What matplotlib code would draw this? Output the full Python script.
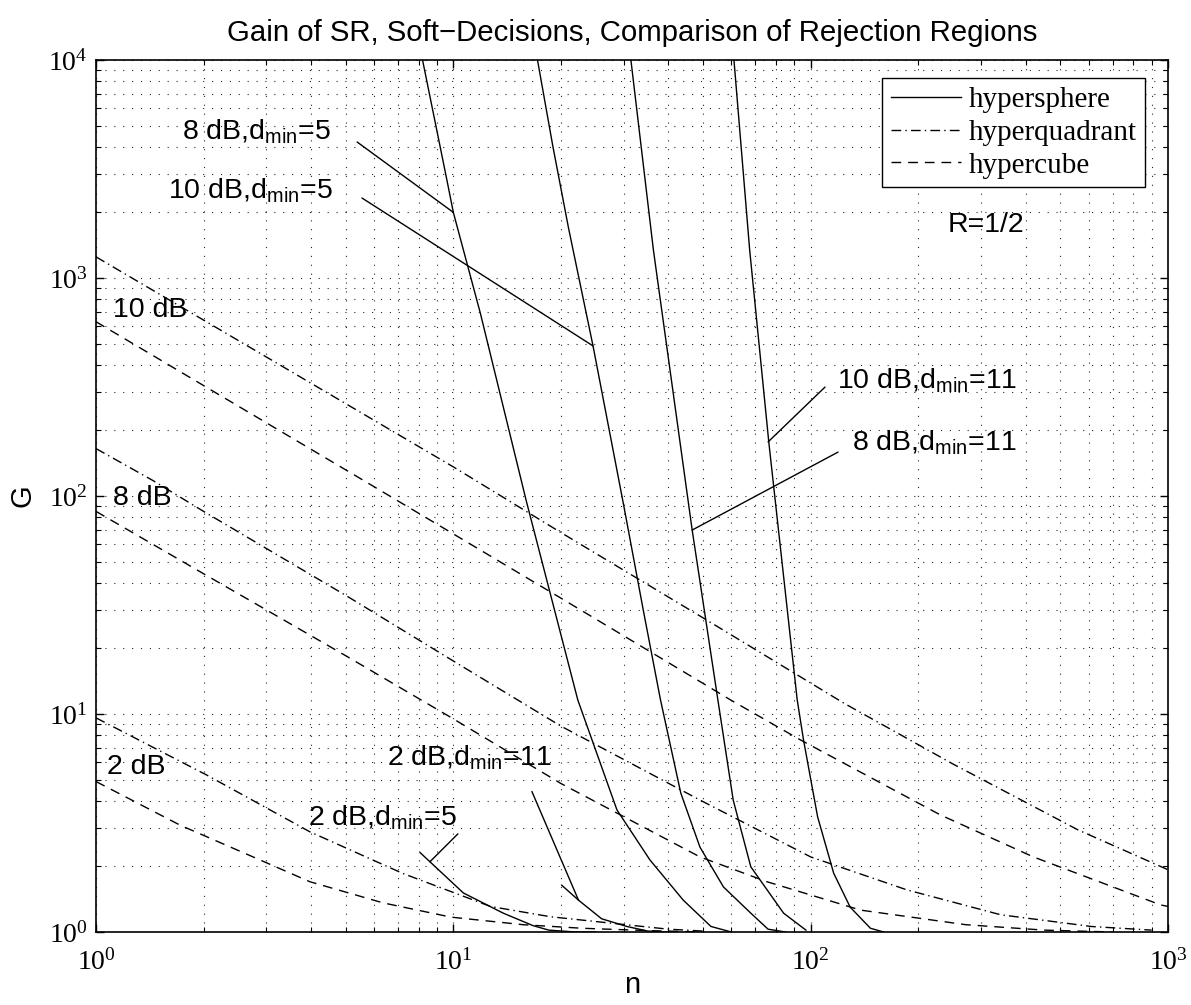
import numpy as np
import matplotlib
matplotlib.use("Agg")
import matplotlib.pyplot as plt
from matplotlib.ticker import LogLocator, LogFormatterMathtext, NullFormatter

# ---------------- data ----------------
# hypercube (dashed)
cube_2dB_n = [1, 1.72, 2.7, 3.97, 6.36, 9.85, 15.7, 23, 35, 50]
cube_2dB_G = [4.9, 3.09, 2.24, 1.70, 1.36, 1.17, 1.08, 1.04, 1.015, 1.0]
cube_8dB_n = [1, 2, 5, 10, 20, 49, 75.5, 138, 272, 450, 700]
cube_8dB_G = [85, 44, 18.5, 9.5, 4.8, 2.21, 1.70, 1.26, 1.08, 1.02, 1.0]
cube_10dB_n = [1, 5.6, 10, 20, 59.7, 93.7, 231, 420, 955, 1000]
cube_10dB_G = [630, 118, 67, 34, 11.6, 7.6, 3.44, 2.21, 1.33, 1.31]

# hyperquadrant (dash-dot)
quad_2dB_n = [1, 2.04, 3.97, 7.2, 12.7, 18.7, 28.8, 40, 50]
quad_2dB_G = [9.6, 5.25, 2.88, 1.86, 1.31, 1.175, 1.09, 1.03, 1.01]
quad_8dB_n = [1, 1.44, 2, 5, 10, 20, 49, 100, 186, 340, 610, 900]
quad_8dB_G = [165, 118, 85, 35, 17.5, 8.8, 4.03, 2.21, 1.56, 1.2, 1.06, 1.02]
quad_10dB_n = [1, 10, 20, 50, 124, 250, 560, 1000]
quad_10dB_G = [1250, 136, 68, 27.6, 11.2, 5.9, 2.94, 1.93]

# hypersphere (solid)
sph_2dB_d5_n = [8.08, 10.67, 13.8, 16.7, 18.5, 22, 25]
sph_2dB_d5_G = [2.31, 1.51, 1.22, 1.07, 1.02, 1.0, 1.0]
sph_2dB_d11_n = [16.6, 22.4, 26, 30.6, 35, 40]
sph_2dB_d11_G = [4.4, 1.40, 1.15, 1.06, 1.01, 1.0]
sph_2dB_d11b_n = [20.1, 22.4]
sph_2dB_d11b_G = [1.64, 1.40]
sph_8dB_d5_n = [8.2, 9.6, 10, 11.9, 16, 22.3, 28.7, 35.5, 44, 52.6, 60]
sph_8dB_d5_G = [10000, 2800, 2000, 690, 95, 11.6, 3.63, 2.14, 1.40, 1.06, 1.0]
sph_10dB_d5_n = [17.2, 19, 21, 24.6, 30, 34, 38, 43.3, 49, 57, 68, 76, 85]
sph_10dB_d5_G = [10000, 4000, 1700, 488, 90, 30, 11.6, 4.34, 2.45, 1.61, 1.22, 1.03, 1.0]
sph_8dB_d11_n = [31.4, 36.3, 46.6, 55, 60.7, 68, 84, 97]
sph_8dB_d11_G = [10000, 1344, 69.8, 11.6, 4.03, 1.99, 1.22, 1.02]
sph_10dB_d11_n = [61, 67.5, 76.4, 91.7, 95.5, 104.6, 116, 129, 147, 160]
sph_10dB_d11_G = [10000, 1344, 175, 11.6, 7.6, 3.37, 1.86, 1.30, 1.04, 1.0]

legend_labels = ["hypersphere", "hyperquadrant", "hypercube"]

# ---------------- styling ----------------
plt.rcParams['font.family'] = ['Liberation Sans', 'DejaVu Sans']
SERIF = ['Liberation Serif', 'DejaVu Serif']
SANS = ['Liberation Sans', 'DejaVu Sans']

fig = plt.figure(figsize=(11.91, 10.05), dpi=100)
ax = fig.add_axes([96/1191, 1-932/1005, 1072/1191, 872/1005])

lw = 1.0
DASH = (0, (7, 5))
DASHDOT = (0, (7, 3, 1, 3))

sph = [(sph_2dB_d5_n, sph_2dB_d5_G), (sph_2dB_d11_n, sph_2dB_d11_G),
       (sph_2dB_d11b_n, sph_2dB_d11b_G), (sph_8dB_d5_n, sph_8dB_d5_G),
       (sph_10dB_d5_n, sph_10dB_d5_G), (sph_8dB_d11_n, sph_8dB_d11_G),
       (sph_10dB_d11_n, sph_10dB_d11_G)]
quad = [(quad_2dB_n, quad_2dB_G), (quad_8dB_n, quad_8dB_G), (quad_10dB_n, quad_10dB_G)]
cube = [(cube_2dB_n, cube_2dB_G), (cube_8dB_n, cube_8dB_G), (cube_10dB_n, cube_10dB_G)]

for i, (x, y) in enumerate(sph):
    ax.plot(x, y, color='black', lw=lw, ls='-', label=legend_labels[0] if i == 0 else None)
for i, (x, y) in enumerate(quad):
    ax.plot(x, y, color='black', lw=lw, ls=DASHDOT, label=legend_labels[1] if i == 0 else None)
for i, (x, y) in enumerate(cube):
    ax.plot(x, y, color='black', lw=lw, ls=DASH, label=legend_labels[2] if i == 0 else None)

ax.set_xscale('log')
ax.set_yscale('log')
ax.set_xlim(1, 1000)
ax.set_ylim(1, 1e4)

ax.xaxis.set_major_locator(LogLocator(base=10, numticks=10))
ax.yaxis.set_major_locator(LogLocator(base=10, numticks=10))
ax.xaxis.set_minor_locator(LogLocator(base=10, subs=np.arange(2, 10), numticks=20))
ax.yaxis.set_minor_locator(LogLocator(base=10, subs=np.arange(2, 10), numticks=20))
ax.xaxis.set_major_formatter(LogFormatterMathtext())
ax.yaxis.set_major_formatter(LogFormatterMathtext())
ax.xaxis.set_minor_formatter(NullFormatter())
ax.yaxis.set_minor_formatter(NullFormatter())

ax.tick_params(which='both', direction='in', top=True, right=True, colors='black')
ax.tick_params(which='major', length=6, width=1, labelsize=20)
ax.tick_params(axis='x', which='major', pad=12)
ax.tick_params(axis='y', which='major', pad=6)
ax.tick_params(which='minor', length=3.5, width=0.8)
for lab in ax.get_xticklabels() + ax.get_yticklabels():
    lab.set_family(SERIF)

grid_kw = dict(color='black', lw=0.8, ls=(0, (1, 7)), alpha=0.85)
ax.grid(True, which='major', **grid_kw)
ax.grid(True, which='minor', **grid_kw)
for s in ax.spines.values():
    s.set_linewidth(1.2)

ax.set_title("Gain of SR, Soft\u2212Decisions, Comparison of Rejection Regions",
             fontsize=21.2, pad=14, family=SANS)
ax.set_xlabel("n", fontsize=21, family=SANS)
ax.set_ylabel("G", fontsize=21, family=SANS)
ax.xaxis.set_label_coords(0.5, -(985 - 932) / 872)
ax.yaxis.set_label_coords(-(96 - 23) / 1072, 0.5)
ax.xaxis.label.set_va('center')
ax.yaxis.label.set_va('center')

leg = ax.legend(loc='upper right', bbox_to_anchor=(0.9785, 0.979), borderaxespad=0,
                prop={'family': SERIF, 'size': 21}, frameon=True, fancybox=False,
                handlelength=2.4, handletextpad=0.28, labelspacing=0.22, borderpad=0.28)
leg.get_frame().set_edgecolor('black')
leg.get_frame().set_linewidth(1.0)
leg.get_frame().set_alpha(1)

# ---------------- annotations ----------------
tkw = dict(fontsize=20.5, family=SANS, color='black')
sub = r'$_{\mathregular{min}}$'
ax.text(1.74, 4343, '8 dB,d' + sub + '=5', ha='left', va='baseline', **tkw)
ax.text(1.59, 2328, '10 dB,d' + sub + '=5', ha='left', va='baseline', **tkw)
ax.text(1.116, 713, '10 dB', ha='left', va='center', **tkw)
ax.text(1.116, 98, '8 dB', ha='left', va='center', **tkw)
ax.text(1.073, 5.71, '2 dB', ha='left', va='center', **tkw)
ax.text(6.52, 5.83, '2 dB,d' + sub + '=11', ha='left', va='baseline', **tkw)
ax.text(3.92, 3.1, '2 dB,d' + sub + '=5', ha='left', va='baseline', **tkw)
ax.text(118.5, 313, '10 dB,d' + sub + '=11', ha='left', va='baseline', **tkw)
ax.text(130.6, 162.6, '8 dB,d' + sub + '=11', ha='left', va='baseline', **tkw)
ax.text(242, 1750, 'R=1/2', ha='left', va='center', **tkw)

akw = dict(arrowprops=dict(arrowstyle='-', lw=1.0, color='black', shrinkA=0, shrinkB=0))
ax.annotate('', xy=(10, 2000), xytext=(5.38, 4206), **akw)
ax.annotate('', xy=(24.6, 488), xytext=(5.55, 2328), **akw)
ax.annotate('', xy=(8.6, 2.1), xytext=(10.3, 2.82), **akw)
ax.annotate('', xy=(76, 177), xytext=(109.7, 316), **akw)
ax.annotate('', xy=(46.6, 69.8), xytext=(119.3, 159), **akw)

fig.savefig('out.png', dpi=100)
